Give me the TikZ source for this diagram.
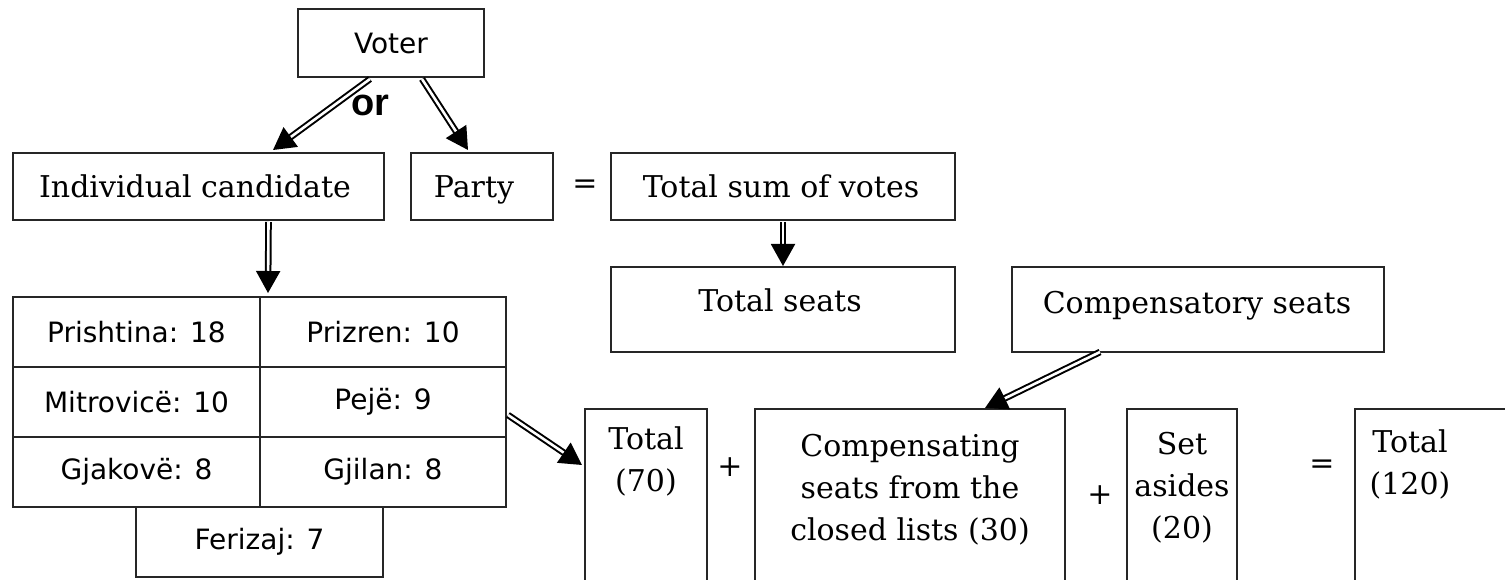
\documentclass[tikz,border=0pt]{standalone}
\usepackage{fontspec}
\newfontfamily\sansf{DejaVu Sans}
\newfontfamily\serf{DejaVu Serif}
\newfontfamily\orfont{Liberation Sans}
\usetikzlibrary{arrows.meta,calc}
\begin{document}
\begin{tikzpicture}[x=1pt,y=-1pt,
  box/.style={draw=black!85, line width=1.5pt, inner sep=0pt, outer sep=0pt},
  ser/.style={font=\serf\fontsize{30}{42}\selectfont, align=center, inner sep=0pt},
  san/.style={font=\sansf\fontsize{28}{32}\selectfont},
  dbl/.style={draw=black, line width=2pt, double=white, double distance=2.6pt,
    -{Triangle[length=22pt,width=24pt]}}]
\useasboundingbox (0,0) rectangle (1505,580);

% top boxes
\node[box, san, minimum width=186pt, minimum height=68pt] (voter) at (391,43) {Voter};
\node[box, minimum width=371pt, minimum height=67pt] (ic) at (198.5,186.5) {};
\node[box, minimum width=142pt, minimum height=67pt] (party) at (482,186.5) {};
\node[box, minimum width=344pt, minimum height=67pt] (tsv) at (783,186.5) {};
\node[box, minimum width=344pt, minimum height=85pt] (ts) at (783,309.5) {};
\node[box, minimum width=372pt, minimum height=85pt] (cs) at (1198,309.5) {};

\node[ser, anchor=base] (ict) at (195,198) {Individual candidate};
\node[ser, anchor=base] (partyt) at (474,198) {Party};
\node[ser] (eq1) at (585,187) {=};
\node[ser, anchor=base] (tsvt) at (781,198) {Total sum of votes};
\node[ser, anchor=base] (tst) at (780,311) {Total seats};
\node[ser, anchor=base] (cst) at (1197,313) {Compensatory seats};

\node[font=\orfont\bfseries\fontsize{38}{40}\selectfont, inner sep=0pt] (or) at (370,105) {or};

% district grid
\node[box, san, minimum width=247pt, minimum height=70pt] (p1) at (136.5,332) {Prishtina: 18};
\node[box, san, minimum width=246pt, minimum height=70pt] (p2) at (383,332) {Prizren: 10};
\node[box, san, minimum width=247pt, minimum height=70pt] (m1) at (136.5,402) {Mitrovicë: 10};
\node[box, san, minimum width=246pt, minimum height=70pt] (m2) at (383,402) {Pejë: 9};
\node[box, san, minimum width=247pt, minimum height=70pt] (g1) at (136.5,472) {Gjakovë: 8};
\node[box, san, minimum width=246pt, minimum height=70pt] (g2) at (383,472) {Gjilan: 8};
\node[box, san, minimum width=247pt, minimum height=70pt] (fz) at (259.5,542) {Ferizaj: 7};

% bottom boxes (open at the page edge)
\node[box, minimum width=122pt, minimum height=211pt] (t70) at (646,514.5) {};
\node[box, minimum width=310pt, minimum height=211pt] (cls) at (910,514.5) {};
\node[box, minimum width=110pt, minimum height=211pt] (sa) at (1182,514.5) {};
\node[box, minimum width=205pt, minimum height=211pt] (t120) at (1457.5,514.5) {};

\node[ser, anchor=north] (t70t) at (646,427) {Total\\(70)};
\node[ser, anchor=north] (clst) at (910,434) {Compensating\\seats from the\\closed lists (30)};
\node[ser, anchor=north] (sat) at (1182,432) {Set\\asides\\(20)};
\node[ser, anchor=north] (t120t) at (1410,430) {Total\\(120)};

\node[ser] (plus1) at (730,467) {+};
\node[ser] (plus2) at (1100,495) {+};
\node[ser] (eq2) at (1322,467) {=};

% arrows
\draw[dbl] ($(voter.south)+(-21,2)$) -- ($(ic.north east)+(-111,-3)$);
\draw[dbl] ($(voter.south)+(31,2)$) -- ($(party.north)+(-14,-3)$);
\draw[dbl] ($(ic.south)+(70,2)$) -- ($(p1.north east)+(8,-4)$);
\draw[dbl] ($(tsv.south)+(0,2)$) -- ($(ts.north)+(0,-1)$);
\draw[dbl] ($(m2.east)+(2,13)$) -- ($(t70.north west)+(-3,56)$);
\draw[dbl] ($(cs.south)+(-98,0)$) -- ($(cls.north)+(75,-1)$);
\end{tikzpicture}
\end{document}
